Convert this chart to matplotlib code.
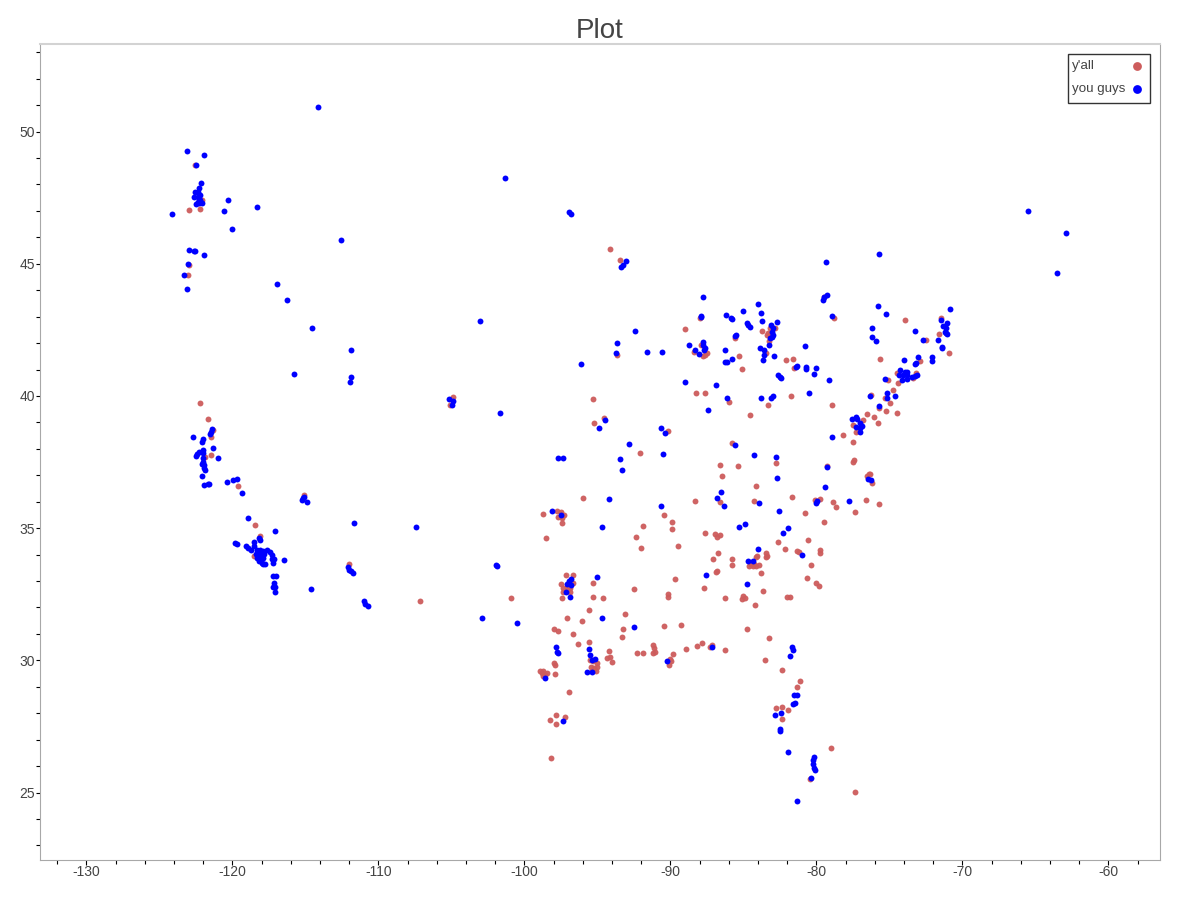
import matplotlib
matplotlib.use("Agg")
import matplotlib.pyplot as plt
from matplotlib.patches import Rectangle
from matplotlib.ticker import MultipleLocator

plt.rcParams['font.family'] = ['Liberation Sans', 'DejaVu Sans']
plt.rcParams['axes.unicode_minus'] = False

# (lon, lat), one line per area
yall = [
    (-122.96, 47.03), (-122.23, 47.08), (-122.11, 47.41), (-122.57, 48.73), (-122.98, 44.94), (-123.07, 44.56),
    (-104.90, 39.96), (-105.10, 39.66),
    (-122.21, 39.74), (-121.66, 39.13), (-121.32, 38.73), (-121.45, 38.45), (-121.45, 37.76), (-121.86, 37.70),
    (-119.60, 36.59), (-115.12, 36.26), (-118.48, 35.12), (-118.10, 34.70), (-118.53, 33.95),
    (-112.05, 33.65), (-107.16, 32.25), (-100.93, 32.36),
    (-96.01, 36.13), (-98.71, 35.53), (-98.55, 34.62), (-97.75, 35.64), (-97.52, 35.61), (-97.27, 35.49),
    (-97.71, 35.41), (-97.45, 35.38), (-97.43, 35.19), (-91.90, 35.07), (-92.34, 34.67), (-92.04, 34.24),
    (-97.16, 33.21), (-96.66, 33.21), (-97.52, 32.87), (-96.66, 32.92), (-97.34, 32.73), (-96.88, 32.73),
    (-97.34, 32.60), (-96.88, 32.58), (-97.11, 32.79), (-97.41, 32.36), (-95.31, 32.94), (-95.33, 32.39),
    (-94.60, 32.35), (-92.50, 32.68), (-95.56, 31.91), (-97.11, 31.62), (-93.12, 31.75), (-96.06, 31.47),
    (-97.96, 31.18), (-97.71, 31.12), (-96.70, 30.98), (-93.27, 31.18), (-93.30, 30.88), (-90.45, 31.29),
    (-89.28, 31.33), (-96.36, 30.61), (-95.56, 30.71), (-94.23, 30.35), (-94.33, 30.08), (-94.14, 30.12),
    (-94.03, 29.92), (-95.51, 30.02), (-95.29, 29.96), (-95.05, 29.89), (-95.47, 29.76), (-95.24, 29.70),
    (-95.05, 29.76), (-95.10, 29.58), (-95.40, 29.58), (-97.98, 29.89), (-97.91, 29.83), (-97.89, 29.49),
    (-98.94, 29.58), (-98.71, 29.58), (-98.44, 29.52), (-98.82, 29.52), (-98.60, 29.45), (-98.71, 29.39),
    (-96.97, 28.80), (-97.84, 27.93), (-97.23, 27.87), (-98.25, 27.76), (-97.82, 27.59), (-98.18, 26.31),
    (-92.27, 30.27), (-91.88, 30.26), (-91.18, 30.59), (-91.13, 30.46), (-91.04, 30.31), (-91.18, 30.27),
    (-89.81, 30.25), (-88.96, 30.42), (-88.21, 30.55), (-87.86, 30.67), (-87.18, 30.59), (-87.29, 30.50),
    (-86.25, 30.39), (-90.03, 30.05), (-89.99, 29.96), (-90.10, 29.83),
    (-87.96, 42.95), (-89.03, 42.52), (-83.75, 42.47), (-83.41, 42.31), (-83.30, 42.37), (-83.18, 42.56),
    (-82.84, 42.58), (-83.23, 42.08), (-85.60, 42.18), (-83.46, 41.63), (-87.91, 41.93), (-88.37, 41.65),
    (-87.52, 41.61), (-87.75, 41.50), (-87.62, 41.55), (-85.29, 41.50), (-85.10, 41.01), (-82.09, 41.35),
    (-81.63, 41.41), (-81.54, 41.07), (-88.27, 40.12), (-87.62, 40.12), (-85.97, 39.77), (-81.75, 39.99),
    (-83.34, 39.67), (-78.94, 39.65), (-84.55, 39.28), (-79.49, 43.75), (-78.82, 42.94),
    (-73.94, 42.87), (-72.50, 42.12), (-71.45, 42.95), (-71.59, 42.36), (-70.92, 41.64), (-75.65, 41.40),
    (-72.91, 41.33), (-74.47, 40.86), (-74.40, 40.50), (-73.18, 40.88), (-73.41, 40.67), (-75.12, 40.59),
    (-76.29, 40.04), (-74.78, 40.23), (-75.31, 39.91), (-74.97, 39.75), (-75.70, 39.56), (-75.24, 39.42),
    (-74.47, 39.35), (-76.56, 39.31), (-76.06, 39.19), (-75.81, 38.97), (-76.84, 39.09), (-77.48, 38.90),
    (-77.32, 38.63), (-78.16, 38.54), (-77.48, 38.26),
    (-85.81, 38.23), (-82.75, 37.47), (-77.48, 37.52), (-77.45, 37.58), (-86.59, 37.37), (-85.38, 37.35),
    (-86.45, 36.96), (-79.30, 37.35), (-84.12, 36.59), (-76.34, 37.05), (-76.56, 36.99), (-76.43, 37.05),
    (-76.22, 36.70), (-86.59, 35.99), (-88.30, 36.03), (-84.26, 36.03), (-81.70, 36.19), (-80.12, 36.07),
    (-79.76, 36.10), (-78.89, 35.98), (-78.68, 35.79), (-76.61, 36.06), (-75.70, 35.91), (-77.34, 35.60),
    (-80.77, 35.57), (-79.49, 35.23), (-87.64, 34.82), (-86.95, 34.77), (-86.79, 34.68), (-86.61, 34.74),
    (-89.49, 34.33), (-82.62, 34.49), (-80.58, 34.54), (-82.16, 34.22), (-86.77, 34.06), (-87.09, 33.83),
    (-81.36, 34.14), (-81.18, 34.09), (-79.76, 34.18), (-79.76, 34.05), (-84.05, 33.96), (-84.14, 33.92),
    (-83.46, 34.05), (-83.46, 33.92), (-83.37, 33.95), (-85.79, 33.83), (-85.81, 33.62), (-84.60, 33.57),
    (-84.37, 33.55), (-84.14, 33.57), (-83.96, 33.61), (-84.28, 33.65), (-84.51, 33.65), (-83.82, 33.31),
    (-80.36, 33.61), (-86.79, 33.38), (-86.88, 33.35), (-80.67, 33.12), (-80.05, 32.94), (-79.80, 32.83),
    (-87.71, 32.74), (-83.64, 32.64), (-86.27, 32.34), (-85.01, 32.44), (-85.10, 32.31), (-84.88, 32.37),
    (-82.04, 32.41), (-81.79, 32.41), (-84.23, 32.09),
    (-94.14, 45.54), (-93.46, 45.16), (-93.66, 41.55), (-95.31, 39.87), (-94.55, 39.17), (-95.24, 38.98),
    (-92.09, 37.84), (-90.17, 38.68), (-90.45, 35.50), (-89.90, 35.24), (-89.90, 34.97), (-89.70, 33.06),
    (-90.17, 32.51), (-90.17, 32.40), (-84.76, 31.19), (-83.25, 30.85), (-83.53, 30.02), (-82.36, 29.64),
    (-81.13, 29.22), (-81.34, 29.00), (-82.77, 28.20), (-82.36, 28.24), (-81.95, 28.13), (-82.36, 27.79),
    (-79.01, 26.69), (-80.44, 25.52), (-77.36, 25.02),
]

you_guys = [
    (-123.10, 49.27), (-121.95, 49.10), (-122.48, 48.73), (-122.18, 48.04), (-122.29, 47.88), (-122.57, 47.72),
    (-122.34, 47.72), (-122.23, 47.60), (-122.64, 47.54), (-122.34, 47.51), (-122.23, 47.41), (-122.34, 47.35),
    (-122.52, 47.26), (-122.11, 47.29), (-122.29, 47.29), (-120.33, 47.40), (-120.56, 46.99), (-118.32, 47.16),
    (-120.05, 46.31), (-124.12, 46.87), (-123.00, 45.53), (-122.64, 45.49), (-122.55, 45.48), (-121.97, 45.33),
    (-123.05, 44.99), (-123.30, 44.56), (-123.10, 44.03),
    (-114.14, 50.91), (-101.34, 48.24), (-96.82, 46.88), (-96.92, 46.94), (-112.57, 45.90), (-116.95, 44.23),
    (-116.27, 43.61), (-114.52, 42.57), (-111.85, 41.74), (-115.79, 40.83), (-111.88, 40.70), (-111.95, 40.51),
    (-103.05, 42.82), (-105.14, 39.87), (-104.90, 39.79), (-104.97, 39.66), (-101.68, 39.36),
    (-122.71, 38.46), (-121.38, 38.74), (-121.47, 38.63), (-121.54, 38.55), (-122.00, 38.39), (-122.07, 38.26),
    (-121.34, 38.05), (-122.00, 37.96), (-122.00, 37.83), (-122.27, 37.87), (-122.41, 37.80), (-122.52, 37.72),
    (-122.04, 37.64), (-122.04, 37.51), (-122.11, 37.42), (-121.95, 37.39), (-121.95, 37.29), (-121.88, 37.21),
    (-121.00, 37.67), (-122.07, 36.97), (-121.95, 36.62), (-121.68, 36.66), (-121.59, 36.68), (-120.40, 36.76),
    (-119.95, 36.82), (-119.71, 36.86), (-119.35, 36.34), (-115.26, 36.06), (-115.15, 36.13), (-115.08, 36.19),
    (-114.88, 35.98), (-118.96, 35.38), (-117.07, 34.89), (-118.10, 34.56), (-118.16, 34.62), (-119.83, 34.42),
    (-119.71, 34.41), (-119.10, 34.34), (-118.92, 34.24), (-118.75, 34.17), (-118.53, 34.47), (-118.53, 34.34),
    (-118.34, 34.18), (-118.12, 34.18), (-117.89, 34.14), (-117.62, 34.18), (-117.43, 34.11), (-117.32, 33.99),
    (-118.39, 34.01), (-118.12, 34.01), (-117.84, 34.01), (-118.30, 33.86), (-118.12, 33.86), (-117.89, 33.89),
    (-118.16, 33.76), (-118.00, 33.70), (-117.89, 33.64), (-117.80, 33.66), (-117.27, 33.84), (-117.16, 33.85),
    (-117.23, 33.67), (-116.47, 33.80), (-117.25, 33.19), (-117.04, 33.19), (-117.14, 32.94), (-117.25, 32.79),
    (-117.09, 32.79), (-117.11, 32.58), (-114.62, 32.68),
    (-111.68, 35.18), (-107.40, 35.03), (-101.95, 33.59), (-101.88, 33.55), (-112.09, 33.53), (-112.02, 33.42),
    (-111.88, 33.38), (-111.75, 33.31), (-110.99, 32.25), (-110.92, 32.14), (-110.72, 32.06), (-102.91, 31.61),
    (-100.51, 31.42),
    (-98.12, 35.64), (-97.52, 35.48), (-94.19, 36.09), (-94.67, 35.04), (-90.68, 35.84), (-96.84, 33.09),
    (-96.95, 33.01), (-97.11, 32.88), (-96.82, 32.85), (-97.18, 32.59), (-96.86, 32.40), (-95.01, 33.15),
    (-94.67, 31.62), (-95.56, 30.42), (-95.49, 30.21), (-95.38, 30.02), (-95.17, 30.05), (-95.70, 29.57),
    (-95.40, 29.57), (-97.86, 30.52), (-97.75, 30.32), (-97.73, 30.27), (-98.58, 29.35), (-97.34, 27.71),
    (-90.22, 29.98), (-87.18, 30.50), (-92.48, 31.28),
    (-87.77, 43.75), (-87.89, 43.04), (-87.93, 42.99), (-86.20, 43.05), (-85.88, 42.96), (-85.81, 42.91),
    (-85.05, 43.20), (-84.03, 43.49), (-83.80, 43.14), (-83.71, 42.84), (-84.76, 42.75), (-84.67, 42.68),
    (-84.55, 42.62), (-82.68, 42.79), (-83.14, 42.68), (-82.96, 42.56), (-83.07, 42.43), (-82.96, 42.31),
    (-83.18, 42.18), (-83.07, 42.24), (-85.60, 42.27), (-85.52, 42.30), (-83.87, 41.83), (-83.27, 41.93),
    (-83.58, 41.73), (-83.62, 41.55), (-83.64, 41.36), (-82.93, 41.50), (-87.75, 42.05), (-87.75, 41.93),
    (-87.66, 41.80), (-87.68, 41.74), (-88.75, 41.93), (-88.30, 41.74), (-88.03, 41.59), (-86.25, 41.74),
    (-85.77, 41.41), (-86.27, 41.27), (-86.11, 41.30), (-80.79, 41.88), (-81.34, 41.15), (-81.41, 41.11),
    (-80.70, 41.11), (-80.70, 41.01), (-80.03, 41.05), (-80.15, 40.82), (-79.16, 40.62), (-82.62, 40.79),
    (-82.50, 40.72), (-82.41, 40.67), (-89.01, 40.52), (-86.90, 40.43), (-86.15, 39.92), (-83.82, 39.92),
    (-83.00, 40.00), (-83.12, 39.91), (-80.53, 40.10), (-87.41, 39.46), (-79.53, 43.63), (-79.26, 43.81),
    (-79.49, 43.74), (-78.94, 43.04),
    (-75.77, 43.41), (-75.22, 43.09), (-76.18, 42.58), (-76.18, 42.23), (-75.93, 42.09), (-73.25, 42.46),
    (-72.73, 42.12), (-71.66, 42.11), (-70.86, 43.30), (-71.49, 42.87), (-71.08, 42.77), (-71.32, 42.65),
    (-71.13, 42.56), (-71.20, 42.43), (-71.13, 42.37), (-71.04, 42.33), (-71.38, 41.86), (-71.42, 41.83),
    (-73.05, 41.48), (-72.11, 41.46), (-72.09, 41.32), (-73.99, 41.37), (-73.18, 41.26), (-73.25, 41.21),
    (-74.28, 40.98), (-73.93, 40.92), (-73.82, 40.92), (-74.33, 40.79), (-74.05, 40.79), (-73.82, 40.79),
    (-74.16, 40.60), (-73.82, 40.63), (-73.48, 40.71), (-73.25, 40.76), (-73.14, 40.79), (-75.31, 40.65),
    (-76.36, 40.00), (-75.15, 40.10), (-75.19, 39.94), (-74.62, 40.01), (-75.70, 39.63),
    (-77.55, 39.12), (-77.29, 39.19), (-77.25, 39.12), (-77.02, 38.97), (-76.86, 38.87), (-77.32, 38.84),
    (-77.02, 38.78), (-77.02, 38.63), (-78.94, 38.45),
    (-85.58, 38.16), (-84.30, 37.76), (-82.77, 37.68), (-79.26, 37.30), (-82.68, 36.89), (-79.44, 36.56),
    (-76.45, 36.86), (-76.29, 36.82), (-86.54, 36.36), (-86.79, 36.13), (-86.36, 35.83), (-83.94, 35.96),
    (-79.99, 36.03), (-80.03, 35.94), (-77.77, 36.02), (-82.57, 35.64), (-84.88, 35.17), (-85.31, 35.05),
    (-81.97, 35.00), (-82.29, 34.83), (-84.01, 34.23), (-81.01, 34.00), (-84.69, 33.77), (-84.37, 33.77),
    (-87.55, 33.21), (-84.74, 32.89),
    (-65.51, 47.01), (-62.91, 46.16), (-63.53, 44.65), (-79.35, 45.05), (-75.72, 45.35), (-93.05, 45.09),
    (-93.25, 44.95), (-93.39, 44.86), (-92.43, 42.46), (-93.63, 42.00), (-93.73, 41.63), (-91.61, 41.66),
    (-90.58, 41.68), (-96.13, 41.21), (-94.49, 39.09), (-94.90, 38.79), (-92.84, 38.17), (-93.46, 37.60),
    (-93.32, 37.20), (-97.71, 37.67), (-97.36, 37.67), (-90.65, 38.79), (-90.38, 38.60), (-90.51, 37.79),
    (-81.68, 30.51), (-81.64, 30.40), (-81.82, 30.17), (-81.54, 28.70), (-81.34, 28.70), (-81.61, 28.36),
    (-81.47, 28.39), (-82.84, 27.95), (-82.43, 28.01), (-82.50, 27.41), (-82.50, 27.33), (-81.95, 26.54),
    (-80.17, 26.35), (-80.24, 26.24), (-80.24, 26.09), (-80.17, 25.94), (-80.13, 25.86), (-80.38, 25.56),
    (-81.34, 24.69),
]

series_names = ["y'all", 'you guys']
series_colors = ['#cd5c5c', '#0000ff']

fig = plt.figure(figsize=(12, 9), dpi=100)
ax = fig.add_axes([40 / 1200, 40 / 900, 1120 / 1200, 816 / 900])

ax.scatter(*zip(*yall), s=18, color=series_colors[0], alpha=0.95, linewidths=0)
ax.scatter(*zip(*you_guys), s=18, color=series_colors[1], linewidths=0)

ax.set_xlim(-133.18, -56.47)
ax.set_ylim(22.45, 53.31)
ax.xaxis.set_major_locator(MultipleLocator(10))
ax.xaxis.set_minor_locator(MultipleLocator(2))
ax.yaxis.set_major_locator(MultipleLocator(5))
ax.yaxis.set_minor_locator(MultipleLocator(1))
ax.tick_params(axis='x', which='major', length=3.8, width=0.8, color='black', labelcolor='#444444', labelsize=10, pad=0)
ax.tick_params(axis='x', which='minor', length=3.2, width=0.8, color='black')
ax.tick_params(axis='y', which='both', length=2.9, width=0.8, color='black')
ax.tick_params(axis='y', which='major', labelcolor='#444444', labelsize=10, pad=0.8)

ax.spines['top'].set_color('#d3d3d3')
ax.spines['top'].set_linewidth(1.5)
for side in ['left', 'right', 'bottom']:
    ax.spines[side].set_color('#a8a8a8')

ax.set_title('Plot', fontsize=20, color='#444444', pad=2.5)

# legend box, text on the left and marker on the right like the original
box = Rectangle((1028 / 1120, 757 / 816), 82 / 1120, 49 / 816, transform=ax.transAxes,
                facecolor='white', edgecolor='#333333', linewidth=1.0, zorder=5)
ax.add_patch(box)
for name, color, top in zip(series_names, series_colors, [794 / 816, 771 / 816]):
    ax.text(1032 / 1120, top, name, transform=ax.transAxes, fontsize=9.6, color='#444444', va='center', zorder=6)
    ax.scatter([1097 / 1120], [top], s=40, color=color, linewidths=0, transform=ax.transAxes, zorder=6)

fig.savefig('out.png', dpi=100)
